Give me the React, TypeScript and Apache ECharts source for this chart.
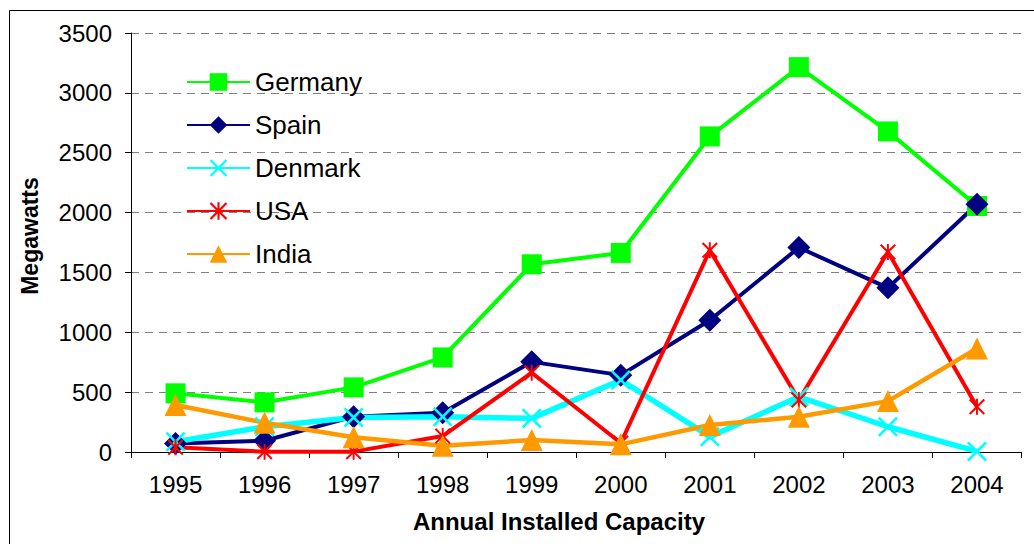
import React, { useEffect, useRef } from "react";
import * as echarts from "echarts";

const years = ["1995", "1996", "1997", "1998", "1999", "2000", "2001", "2002", "2003", "2004"];
const germany = [490, 415, 540, 790, 1568, 1663, 2636, 3215, 2678, 2055];
const spain = [72, 94, 295, 328, 753, 642, 1101, 1708, 1371, 2069];
const denmark = [86, 211, 289, 295, 281, 601, 128, 461, 211, 5];
const usa = [39, 3, 3, 133, 662, 75, 1685, 434, 1671, 378];
const india = [392, 245, 123, 53, 100, 64, 225, 295, 425, 865];

const FONT = "Arial, 'Liberation Sans', sans-serif";

const s = 9;
const X_PATH = `path://M0,${s} L${s},0 L50,${50 - s} L${100 - s},0 L100,${s} L${50 + s},50 L100,${100 - s} L${100 - s},100 L50,${50 + s} L${s},100 L0,${100 - s} L${50 - s},50 Z`;
const STAR_PATH = `path://M0,${s} L${s},0 L50,${50 - s} L${100 - s},0 L100,${s} L${50 + s},50 L100,${100 - s} L${100 - s},100 L50,${50 + s} L${s},100 L0,${100 - s} L${50 - s},50 Z M44,0 L56,0 L56,100 L44,100 Z`;

export default function App() {
  const ref = useRef<HTMLDivElement>(null);
  useEffect(() => {
    document.body.style.margin = "0";
    if (!ref.current) return;
    const chart = echarts.init(ref.current, undefined, { renderer: "svg" });
    const mk = (name: string, data: number[], color: string, symbol: string, size: number | number[], width: number) => ({
      name,
      type: "line",
      data,
      symbol,
      symbolSize: size,
      showAllSymbol: true,
      lineStyle: { color, width },
      itemStyle: { color, borderWidth: 0 },
      emphasis: { disabled: true },
    });
    chart.setOption({
      animation: false,
      backgroundColor: "#ffffff",
      textStyle: { fontFamily: FONT },
      grid: { left: 131, right: 12.5, top: 33, bottom: 92, containLabel: false },
      legend: {
        orient: "vertical",
        left: 186,
        top: 69,
        padding: 0,
        itemWidth: 63,
        itemHeight: 22,
        itemGap: 17,
        textStyle: { fontSize: 26, color: "#000", fontFamily: FONT },
        data: ["Germany", "Spain", "Denmark", "USA", "India"],
      },
      xAxis: {
        type: "category",
        data: years,
        boundaryGap: true,
        axisLine: { show: true, lineStyle: { color: "#000", width: 1 } },
        axisTick: { show: true, length: 6, lineStyle: { color: "#000" } },
        axisLabel: { fontSize: 24, color: "#000", margin: 20, fontFamily: FONT },
        splitLine: { show: false },
      },
      yAxis: {
        type: "value",
        min: 0,
        max: 3500,
        interval: 500,
        axisLine: { show: true, lineStyle: { color: "#000", width: 1 } },
        axisTick: { show: true, length: 6, lineStyle: { color: "#000" } },
        axisLabel: {
          fontSize: 24,
          color: "#000",
          margin: 19,
          fontFamily: FONT,
          formatter: (v: number) => String(v),
        },
        splitLine: { show: true, lineStyle: { color: "#808080", width: 1, type: [8, 6] } },
      },
      graphic: [
        {
          type: "rect",
          shape: { x: 9.5, y: 10.5, width: 1100, height: 600 },
          style: { fill: "none", stroke: "#000", lineWidth: 1 },
          silent: true,
          z: -1,
        },
        {
          type: "text",
          x: 30,
          y: 236,
          rotation: Math.PI / 2,
          style: {
            text: "Megawatts",
            font: `bold 23px ${FONT}`,
            fill: "#000",
            align: "center",
            verticalAlign: "middle",
          },
        },
        {
          type: "text",
          x: 559,
          y: 521,
          style: {
            text: "Annual Installed Capacity",
            font: `bold 24px ${FONT}`,
            fill: "#000",
            align: "center",
            verticalAlign: "middle",
          },
        },
      ],
      series: [
        mk("Germany", germany, "#00FF00", "rect", 20, 4),
        mk("Spain", spain, "#000080", "diamond", 23, 4),
        mk("Denmark", denmark, "#00FFFF", X_PATH, 20, 5.5),
        mk("USA", usa, "#FF0000", STAR_PATH, 16, 4),
        mk("India", india, "#FF9900", "triangle", 22, 4.5),
      ],
    });
    return () => chart.dispose();
  }, []);
  return <div ref={ref} style={{ width: 1034, height: 544 }} />;
}
